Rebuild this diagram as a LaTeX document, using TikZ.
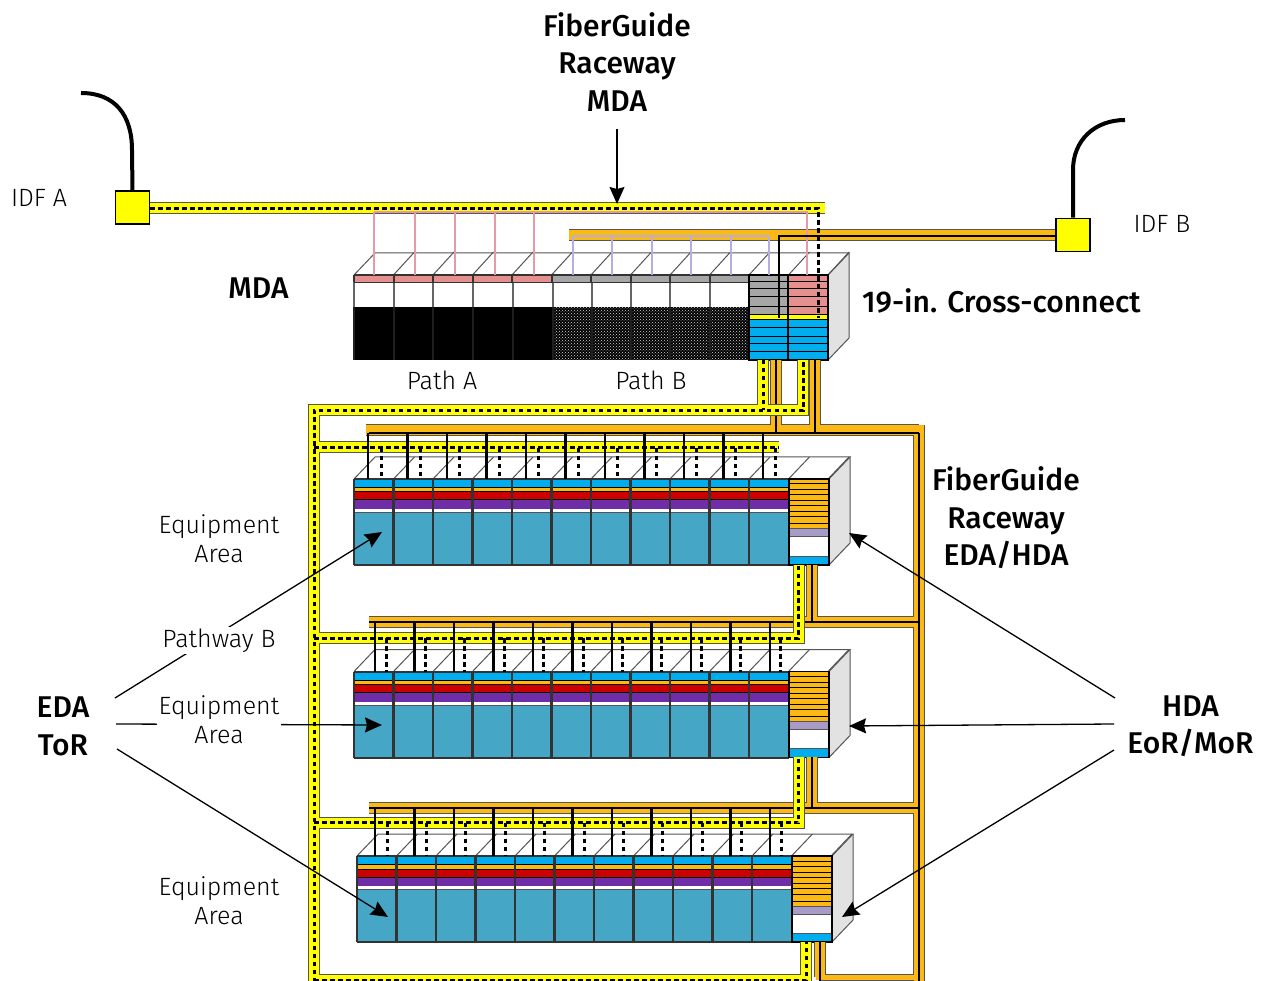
\documentclass[tikz,border=0pt]{standalone}
\usepackage{fontspec}
\setmainfont{Fira Sans Light}
\newfontfamily\headfont{Fira Sans Medium}
\usetikzlibrary{arrows.meta,patterns}
\definecolor{cyellow}{HTML}{FFFF00}
\definecolor{corange}{HTML}{FDB913}
\definecolor{cblue}{HTML}{00AEEF}
\definecolor{cteal}{HTML}{45A6C6}
\definecolor{cred}{HTML}{CC0000}
\definecolor{cpurple}{HTML}{6F2DA8}
\definecolor{clav}{HTML}{A99BC7}
\definecolor{cpink}{HTML}{E58F8F}
\definecolor{cgray}{HTML}{A6A6A6}
\definecolor{cside}{HTML}{E2E2E2}
\definecolor{cpinkline}{HTML}{E59AAB}
\definecolor{clavline}{HTML}{B7AEE0}
\definecolor{cedge}{HTML}{555555}
\tikzset{
  x=1pt,y=-1pt,
  callout/.style={line width=1.3pt,black,-{Stealth[length=17pt,width=15pt,inset=2pt]}},
  blackdrop/.style={line width=2.5pt,black},
  dashdrop/.style={line width=3pt,black,dash pattern=on 4.5pt off 3.5pt},
  divider/.style={line width=2.5pt,black!80},
  faceline/.style={line width=1pt,cedge},
  heading/.style={font=\fontsize{30}{37.5}\selectfont\headfont,align=center,inner sep=0pt,text=black},
  body/.style={font=\fontsize{25}{29}\selectfont,align=center,inner sep=2pt,text=black,fill=white},
  idfbox/.style={draw=black,line width=1.5pt,fill=cyellow,minimum width=34pt,minimum height=33pt,inner sep=0pt},
}
\newcommand{\topfaces}[4]{% xleft, xright(front), ytop, ybottom
  \fill[white] (#1,#3) -- ++(21,-22) -- (#2+21,#3-22) -- (#2,#3) -- cycle;
  \fill[cside] (#2,#3) -- (#2+21,#3-22) -- (#2+21,#4-22) -- (#2,#4) -- cycle;
  \draw[faceline] (#1,#3) -- ++(21,-22) -- (#2+21,#3-22) -- (#2,#3);
  \draw[faceline] (#2+21,#3-22) -- (#2+21,#4-22) -- (#2,#4);
}
\newcommand{\rackrow}[2]{%
\begin{scope}[shift={(#1,#2)}]
  \topfaces{354}{829}{479}{565}
  \foreach \i in {1,...,12} \draw[faceline] (354+39.5*\i,479) -- ++(21,-22);
  \fill[cteal] (354,479) rectangle (789,565);
  \fill[cblue] (354,479) rectangle (789,487.5);
  \fill[corange] (354,487.5) rectangle (789,492);
  \fill[cred] (354,492) rectangle (789,500);
  \fill[cpurple] (354,500) rectangle (789,509);
  \fill[white] (354,509) rectangle (789,512.5);
  \draw[line width=1pt,black] (354,487.5) -- (789,487.5) (354,492) -- (789,492) (354,500) -- (789,500);
  \draw[line width=1pt,cedge] (354,512.5) -- (789,512.5);
  \foreach \i in {0,...,10} \draw[divider] (354+39.5*\i,479) -- (354+39.5*\i,565);
  \draw[line width=2pt,black!80] (354,479) -- (789,479) (354,565) -- (789,565);
  \fill[corange] (789,479) rectangle (829,529);
  \foreach \yy in {484,489.5,495,500.5,506,511.5,517,524} \draw[line width=1pt,black] (789,\yy) -- (829,\yy);
  \fill[clav] (789,529) rectangle (829,537);
  \fill[white] (789,537) rectangle (829,556);
  \fill[cblue] (789,556) rectangle (829,565);
  \draw[line width=1pt,cedge] (789,529) -- (829,529) (789,537) -- (829,537) (789,556) -- (829,556);
  \draw[line width=1.2pt,black] (789,479) rectangle (829,565);
\end{scope}}
\newcommand{\rowdrops}[5]{% black x0, dash x0, tray black y, tray dash y, rack top y
  \foreach \i in {0,...,10} {
    \draw[blackdrop] (#1+39.5*\i,#3) -- (#1+39.5*\i,#5);
    \draw[dashdrop] (#2+39.4*\i,#4) -- (#2+39.4*\i,#5);
  }}
\begin{document}
\begin{tikzpicture}
\useasboundingbox (0,0) rectangle (1262,981);
\clip (0,0) rectangle (1262,981);
\fill[white] (0,0) rectangle (1262,981);

% ===== MDA rack =====
\topfaces{354}{828}{275}{360}
\foreach \i in {1,...,12} \draw[faceline] (354+39.5*\i,275) -- ++(21,-23);
\fill[cpink] (354,275) rectangle (552.5,282.5);
\fill[cgray] (552.5,275) rectangle (749,282.5);
\fill[black] (354,307) rectangle (552.5,360);
\fill[black] (552.5,307) rectangle (749,360);
\fill[pattern=crosshatch dots,pattern color=white!85!black] (552.5,307) rectangle (749,360);
\foreach \i in {0,...,5} {
  \draw[line width=2pt,black!60] (354+39.7*\i,282) -- (354+39.7*\i,307);
  \draw[line width=2pt,black!88] (354+39.7*\i,307) -- (354+39.7*\i,360);}
\foreach \i in {6,...,10} {
  \draw[line width=2pt,black!60] (316.7+39.3*\i,282) -- (316.7+39.3*\i,307);
  \draw[line width=2pt,black!88] (316.7+39.3*\i,307) -- (316.7+39.3*\i,360);}
\foreach \i in {0,...,10} \draw[line width=2pt,black!80] (354+39.5*\i,275) -- (354+39.5*\i,282.5);
\draw[line width=1.5pt,black!80] (354,275) -- (749,275) (354,282.5) -- (749,282.5);
% cross-connect panels
\fill[cgray] (749,275) rectangle (788,315);
\fill[cpink] (788,275) rectangle (828,315);
\fill[cyellow] (749,315) rectangle (828,320);
\fill[cblue] (749,320) rectangle (828,360);
\foreach \yy in {282,289,297,307,315,320,328,337,344,352} \draw[line width=1pt,black] (749,\yy) -- (828,\yy);
\draw[line width=1.4pt,black] (749,275) rectangle (828,360);
\draw[line width=1.4pt,black] (788,275) -- (788,360);

% ===== equipment rows =====
\rackrow{0}{0}
\rackrow{0}{192.5}
\rackrow{3}{377}

% ===== orange raceway =====
\newcommand{\orangepath}{(569,235.5) -- (1056,235.5)
  (366,430.5) -- (918.5,430.5) (918.5,425.5) -- (918.5,990)
  (776,360) -- (776,430.5) (815,360) -- (815,430.5)
  (369,622) -- (918.5,622) (811.5,565) -- (811.5,622)
  (369,808) -- (918.5,808) (811.5,757) -- (811.5,808)
  (820,942) -- (820,977)}
\draw[line width=12pt,cedge] \orangepath;
\draw[line width=7pt,cedge] (820,977.5) -- (918,977.5);
\draw[line width=10pt,corange] \orangepath;
\draw[line width=5pt,corange] (816,977.5) -- (918,977.5);
\draw[line width=2pt,black] (369,433) -- (918.5,433) (918.5,433) -- (918.5,990)
  (776,360) -- (776,433) (815,360) -- (815,433)
  (369,622) -- (918.5,622) (811.5,565) -- (811.5,622)
  (369,808) -- (918.5,808) (811.5,757) -- (811.5,808)
  (820,942) -- (820,981);

% ===== yellow raceway =====
\newcommand{\yellowpath}{(314,990) -- (314,410.5) -- (803,410.5) -- (803,360)
  (763,360) -- (763,410.5)
  (314,447.5) -- (779,447.5)
  (314,638) -- (798.5,638) -- (798.5,565)
  (314,822.5) -- (798.5,822.5) -- (798.5,757)
  (314,980) -- (806,980) -- (806,942)
  (150,208.5) -- (825,208.5)}
\draw[line width=12pt,cedge] \yellowpath;
\draw[line width=10pt,cyellow] \yellowpath;
\draw[dashdrop] (314,990) -- (314,410.5) -- (803,410.5) -- (803,360)
  (763,360) -- (763,410.5)
  (314,447.5) -- (779,447.5)
  (314,638) -- (798.5,638) -- (798.5,565)
  (314,822.5) -- (798.5,822.5) -- (798.5,757)
  (314,980) -- (806,980) -- (806,942)
  (150,208.5) -- (818,208.5) -- (818,318);

% ===== MDA patch drops =====
\draw[line width=2pt,cpinkline] (374,212) -- (807,212) -- (807,275);
\foreach \xx in {374,415,455,495,534} \draw[line width=2pt,cpinkline] (\xx,212) -- (\xx,275);
\draw[line width=2pt,clavline] (573,236) -- (769,236);
\foreach \xx in {573,612,652,691,731,769} \draw[line width=2pt,clavline] (\xx,236) -- (\xx,275);
\draw[line width=2.5pt,black] (779,318) -- (779,236) -- (1056,236);

% ===== row drops =====
\rowdrops{368}{381}{433}{448}{479}
\rowdrops{375}{386}{622}{638}{671.5}
\rowdrops{375}{387}{808}{822.5}{856}

% ===== IDF boxes and cables =====
\node[idfbox] (idfa) at (132.5,207.5) {};
\node[idfbox] (idfb) at (1073,235) {};
\coordinate (cablea) at (81,93);
\coordinate (cableb) at (1125,120);
\draw[line width=4pt,black] (cablea) .. controls (115,93) and (132,115) .. (132,150) -- (idfa.north);
\draw[line width=4pt,black] (cableb) .. controls (1095,120) and (1073,140) .. (1073,170) -- (idfb.north);

% ===== callouts =====
\coordinate (mdafrom) at (617,129);
\coordinate (mdato) at (617,204);
\coordinate (edaA) at (115,698);
\coordinate (edaB) at (116,724);
\coordinate (edaC) at (117,749);
\coordinate (rackA) at (382,532);
\coordinate (rackB) at (382,725);
\coordinate (rackC) at (388,917);
\coordinate (hdaA) at (1115,698);
\coordinate (hdaB) at (1114,724);
\coordinate (hdaC) at (1114,750);
\coordinate (endA) at (849,533);
\coordinate (endB) at (849,726);
\coordinate (endC) at (842,917);
\draw[callout] (mdafrom) -- (mdato);
\draw[callout] (edaA) -- (rackA);
\draw[callout] (edaB) -- (rackB);
\draw[callout] (edaC) -- (rackC);
\draw[callout] (hdaA) -- (endA);
\draw[callout] (hdaB) -- (endB);
\draw[callout] (hdaC) -- (endC);

% ===== labels =====
\node[heading] (fgmda) at (617,62) {FiberGuide\\Raceway\\MDA};
\node[heading] (lmda) at (258.5,288) {MDA};
\node[heading,anchor=west] (lcc) at (862,301) {19-in. Cross-connect};
\node[heading] (fgeda) at (1006,518) {FiberGuide\\Raceway\\EDA/HDA};
\node[heading] (leda) at (63,726.5) {EDA\\ToR};
\node[heading] (lhda) at (1190.5,726.5) {HDA\\EoR/MoR};
\node[body,fill=none] (lidfa) at (39,198) {IDF A};
\node[body,fill=none] (lidfb) at (1162,224) {IDF B};
\node[body,fill=none] (lpa) at (442,380) {Path A};
\node[body,fill=none] (lpb) at (651,380) {Path B};
\node[body,fill=none] (leq1) at (219,539) {Equipment\\Area};
\node[body] (lpw) at (219,640.5) {Pathway B};
\node[body] (leq2) at (219,720) {Equipment\\Area};
\node[body,fill=none] (leq3) at (219,900.5) {Equipment\\Area};
\end{tikzpicture}
\end{document}
